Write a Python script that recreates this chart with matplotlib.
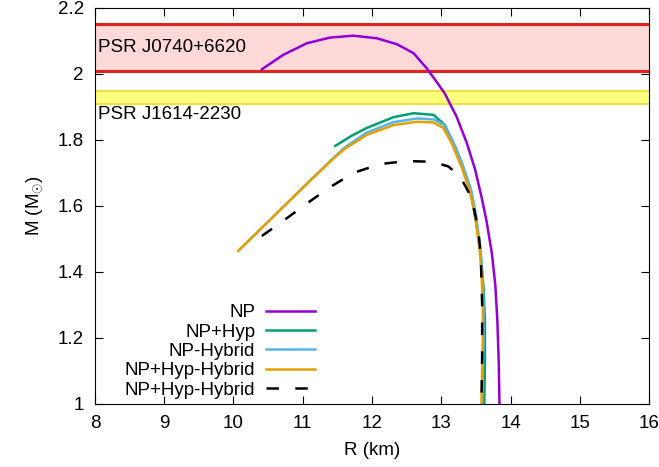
import matplotlib
matplotlib.use('Agg')
import matplotlib.pyplot as plt

plt.rcParams['font.family'] = ['Liberation Sans', 'DejaVu Sans']
plt.rcParams['mathtext.fontset'] = 'custom'
plt.rcParams['mathtext.rm'] = 'Liberation Sans'
plt.rcParams['mathtext.it'] = 'Liberation Sans'

# mass-radius curves
r_np = [10.41, 10.72, 11.06, 11.39, 11.73, 12.07, 12.36, 12.6, 12.79, 12.93, 13.05, 13.22, 13.37,
        13.49, 13.58, 13.65, 13.73, 13.78, 13.81, 13.83, 13.84]
m_np = [2.014, 2.058, 2.093, 2.11, 2.116, 2.108, 2.09, 2.063, 2.017, 1.977, 1.941, 1.871, 1.79,
        1.709, 1.628, 1.558, 1.457, 1.36, 1.25, 1.12, 1.0]

r_hyp = [11.47, 11.7, 11.92, 12.31, 12.6, 12.89, 13.05, 13.22, 13.34, 13.44, 13.51, 13.57, 13.61,
         13.63, 13.63, 13.62]
m_hyp = [1.782, 1.812, 1.836, 1.869, 1.881, 1.876, 1.845, 1.77, 1.70, 1.624, 1.54, 1.45, 1.35,
         1.25, 1.12, 1.0]

r_hyb = [10.07, 10.5, 11.0, 11.45, 11.6, 11.92, 12.31, 12.65, 12.9, 13.04, 13.16, 13.3, 13.43,
         13.5, 13.56, 13.59, 13.61, 13.61, 13.6, 13.59]
m_hyb = [1.464, 1.552, 1.655, 1.747, 1.776, 1.822, 1.854, 1.865, 1.862, 1.845, 1.80, 1.73, 1.65,
         1.575, 1.48, 1.40, 1.30, 1.20, 1.10, 1.0]

r_hh = [10.07, 10.5, 11.0, 11.45, 11.6, 11.92, 12.31, 12.65, 12.89, 13.03, 13.15, 13.29, 13.42,
        13.49, 13.55, 13.58, 13.6, 13.6, 13.59, 13.58]
m_hh = [1.464, 1.552, 1.655, 1.745, 1.772, 1.815, 1.845, 1.855, 1.853, 1.836, 1.79, 1.72, 1.64,
        1.57, 1.477, 1.40, 1.30, 1.20, 1.10, 1.0]

r_hh2 = [10.41, 10.72, 11.05, 11.38, 11.73, 12.12, 12.5, 12.86, 13.1, 13.27, 13.44, 13.53, 13.57,
         13.59, 13.59, 13.58]
m_hh2 = [1.509, 1.555, 1.606, 1.655, 1.70, 1.727, 1.736, 1.734, 1.72, 1.69, 1.624, 1.533, 1.45,
         1.30, 1.15, 1.0]

# observational bands
j0740 = (2.01, 2.15)
j1614 = (1.909, 1.949)

fig = plt.figure(figsize=(6.59, 4.67), dpi=100)
ax = fig.add_axes([0.144, 0.135, 0.841, 0.848])

ax.axhspan(j0740[0], j0740[1], color='#ffd8d8', lw=0, zorder=0)
ax.axhline(j0740[0], color='#e4201c', lw=2.2, zorder=1)
ax.axhline(j0740[1], color='#e4201c', lw=2.2, zorder=1)
ax.axhspan(j1614[0], j1614[1], color='#ffff80', lw=0, zorder=0)
ax.axhline(j1614[0], color='#f0e040', lw=1.5, zorder=1)
ax.axhline(j1614[1], color='#f0e040', lw=1.5, zorder=1)
ax.text(8.05, 2.08, 'PSR J0740+6620', fontsize=13.5, va='center', ha='left')
ax.text(8.05, 1.876, 'PSR J1614-2230', fontsize=13.5, va='center', ha='left')

ax.plot(r_np, m_np, color='#9400d3', lw=1.8, label='NP', zorder=3)
ax.plot(r_hyp, m_hyp, color='#009e73', lw=1.8, label='NP+Hyp', zorder=3)
ax.plot(r_hyb, m_hyb, color='#56b4e9', lw=1.8, label='NP-Hybrid', zorder=4)
ax.plot(r_hh, m_hh, color='#e69f00', lw=1.8, label='NP+Hyp-Hybrid', zorder=5)
ax.plot(r_hh2, m_hh2, color='black', lw=1.8, ls=(0, (5, 6.5)), label='NP+Hyp-Hybrid', zorder=6)

ax.set_xlim(8, 16)
ax.set_ylim(1, 2.2)
ax.set_xticks(range(8, 17))
ax.set_yticks([1, 1.2, 1.4, 1.6, 1.8, 2, 2.2])
ax.set_yticklabels(['1', '1.2', '1.4', '1.6', '1.8', '2', '2.2'])
ax.tick_params(direction='in', top=True, right=True, length=6, labelsize=13.5, pad=8)
ax.set_xlabel('R (km)', fontsize=13.5, labelpad=7)
ax.set_ylabel(r'M (M$_{\odot}$)', fontsize=13.5, labelpad=9)

ax.legend(loc='lower left', bbox_to_anchor=(0.03, -0.02), markerfirst=False, frameon=False,
          fontsize=13.5, handlelength=2.6, labelspacing=0.12, handletextpad=0.6, borderaxespad=0.3)

fig.savefig('out.png', dpi=100)
